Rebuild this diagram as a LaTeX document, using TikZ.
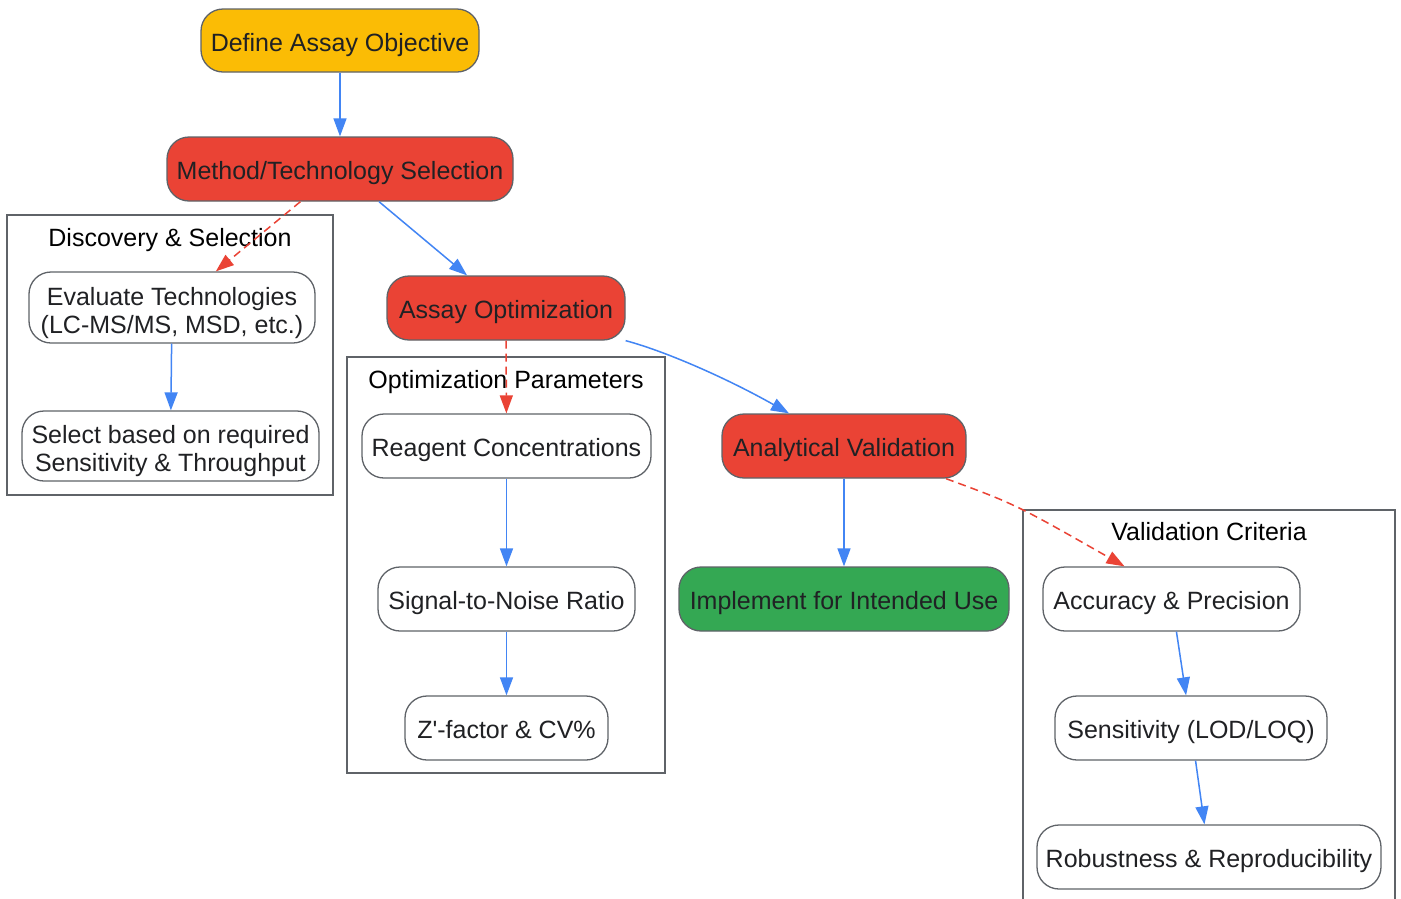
\documentclass[tikz,border=0pt]{standalone}
\usepackage{fontspec}
\setmainfont{Liberation Sans}
\usetikzlibrary{arrows.meta}
\definecolor{gy}{HTML}{FBBC05}
\definecolor{gr}{HTML}{EA4335}
\definecolor{gg}{HTML}{34A853}
\definecolor{gb}{HTML}{4285F4}
\definecolor{bd}{HTML}{5F6368}
\definecolor{tx}{HTML}{202124}
\begin{document}
\begin{tikzpicture}[x=1pt,y=-1pt, font=\fontsize{25}{28}\selectfont,
 box/.style={draw=bd, line width=1.3pt, rounded corners=22pt, inner sep=0pt, text=tx, align=center, text height=21pt, text depth=0pt},
 twoline/.style={text height=51pt, text depth=0pt},
 cluster/.style={draw=bd, line width=1.3pt},
 lab/.style={text=black, inner sep=0pt, text height=16pt, text depth=0pt},
 flow/.style={draw=gb, line width=1.5pt, -{Triangle[length=18pt,width=13pt]}},
 sub/.style={draw=gr, line width=1.5pt, dash pattern=on 8pt off 5pt, -{Triangle[length=18pt,width=13pt]}}]
\useasboundingbox (0,0) rectangle (1401,898);
\fill[white] (0,0) rectangle (1401,898);
% clusters
\draw[cluster] (7,215) rectangle (333,495);
\draw[cluster] (347,357) rectangle (665,773);
\draw[cluster] (1023,510) rectangle (1395,910);
\node[lab] (l1) at (170,238) {Discovery \& Selection};
\node[lab] (l2) at (506,380) {Optimization Parameters};
\node[lab] (l3) at (1209,532) {Validation Criteria};
% main nodes
\node[box, fill=gy, minimum width=278pt, minimum height=63pt] (def) at (340,40.5) {Define Assay Objective};
\node[box, fill=gr, minimum width=346pt, minimum height=64pt] (meth) at (340,169) {Method/Technology Selection};
\node[box, fill=gr, minimum width=238pt, minimum height=64pt] (ao) at (506,308) {Assay Optimization};
\node[box, fill=gr, minimum width=244pt, minimum height=64pt] (av) at (844,446) {Analytical Validation};
\node[box, fill=gg, minimum width=330pt, minimum height=64pt] (impl) at (844,599) {Implement for Intended Use};
% discovery
\node[box, twoline, fill=white, minimum width=286pt, minimum height=71pt] (ev) at (172,307.5) {Evaluate Technologies\\(LC-MS/MS, MSD, etc.)};
\node[box, twoline, fill=white, minimum width=297pt, minimum height=70pt] (sel) at (170.5,446) {Select based on required\\Sensitivity \& Throughput};
% optimization
\node[box, fill=white, minimum width=289pt, minimum height=64pt] (rc) at (506.5,446) {Reagent Concentrations};
\node[box, fill=white, minimum width=257pt, minimum height=64pt] (sn) at (506.5,599) {Signal-to-Noise Ratio};
\node[box, fill=white, minimum width=203pt, minimum height=64pt] (zf) at (506.5,728) {Z\textquotesingle-factor \& CV\%};
% validation
\node[box, fill=white, minimum width=257pt, minimum height=64pt] (acc) at (1171.5,599) {Accuracy \& Precision};
\node[box, fill=white, minimum width=272pt, minimum height=64pt] (sens) at (1191,728) {Sensitivity (LOD/LOQ)};
\node[box, fill=white, minimum width=344pt, minimum height=64pt] (rob) at (1209,857) {Robustness \& Reproducibility};
% edges
\draw[flow] (def) -- (meth);
\draw[sub] (meth) -- (ev);
\draw[flow] (meth) -- (ao);
\draw[flow] (ev) -- (sel);
\draw[sub] (ao) -- (rc);
\draw[flow] (ao.south east) .. controls (668,352) and (730,380) .. ([xshift=-55pt]av.north);
\draw[flow] (av) -- (impl);
\draw[sub] ([xshift=102pt]av.south) .. controls (1015,504) .. ([xshift=-47pt]acc.north);
\draw[flow] (rc) -- (sn);
\draw[flow] (sn) -- (zf);
\draw[flow] (acc) -- (sens);
\draw[flow] (sens) -- (rob);
\end{tikzpicture}
\end{document}
